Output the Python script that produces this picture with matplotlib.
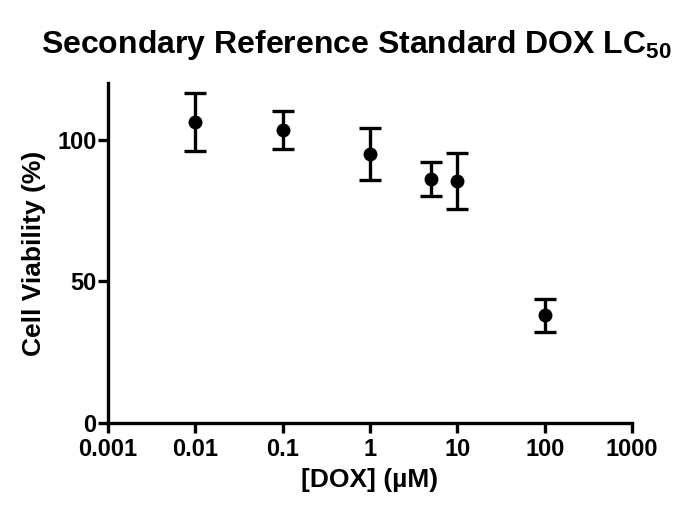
import numpy as np
import matplotlib
matplotlib.use('Agg')
import matplotlib.pyplot as plt

plt.rcParams['font.family'] = ['Liberation Sans', 'DejaVu Sans']
plt.rcParams['font.weight'] = 'bold'
plt.rcParams['mathtext.fontset'] = 'custom'
plt.rcParams['mathtext.rm'] = 'Liberation Sans:bold'
plt.rcParams['mathtext.bf'] = 'Liberation Sans:bold'

# data
dox = [0.01, 0.1, 1, 5, 10, 100]
viability = [106.2, 103.4, 95.0, 86.3, 85.5, 38.0]
err = [10.2, 6.8, 9.2, 6.0, 9.8, 5.9]
xticks = [0.001, 0.01, 0.1, 1, 10, 100, 1000]
xlabels = ['0.001', '0.01', '0.1', '1', '10', '100', '1000']
yticks = [0, 50, 100]

fig = plt.figure(figsize=(6.82, 5.07), dpi=100)
ax = fig.add_axes([0.158, 0.166, 0.769, 0.670])

ax.errorbar(dox, viability, yerr=err, fmt='o', color='black', ms=9,
            elinewidth=2.4, capsize=8, capthick=2.4)

ax.set_xscale('log')
ax.set_xlim(0.001, 1000)
ax.set_ylim(0, 120)
ax.set_xticks(xticks)
ax.set_xticklabels(xlabels)
ax.xaxis.set_minor_locator(matplotlib.ticker.NullLocator())
ax.set_yticks(yticks)

for s in ['top', 'right']:
    ax.spines[s].set_visible(False)
for s in ['left', 'bottom']:
    ax.spines[s].set_linewidth(2.4)
ax.tick_params(width=2.4, length=7, labelsize=17)
ax.tick_params(axis='x', pad=4)
ax.tick_params(axis='y', pad=1)
for lab in ax.get_xticklabels() + ax.get_yticklabels():
    lab.set_fontweight('bold')

ax.set_xlabel('[DOX] (µM)', fontsize=19, fontweight='bold', labelpad=5)
ax.set_ylabel('Cell Viability (%)', fontsize=19, fontweight='bold', labelpad=8)
fig.text(0.522, 0.895, 'Secondary Reference Standard DOX LC$_{50}$', fontsize=23,
         fontweight='bold', ha='center', va='baseline')

fig.savefig('out.png', dpi=100)
